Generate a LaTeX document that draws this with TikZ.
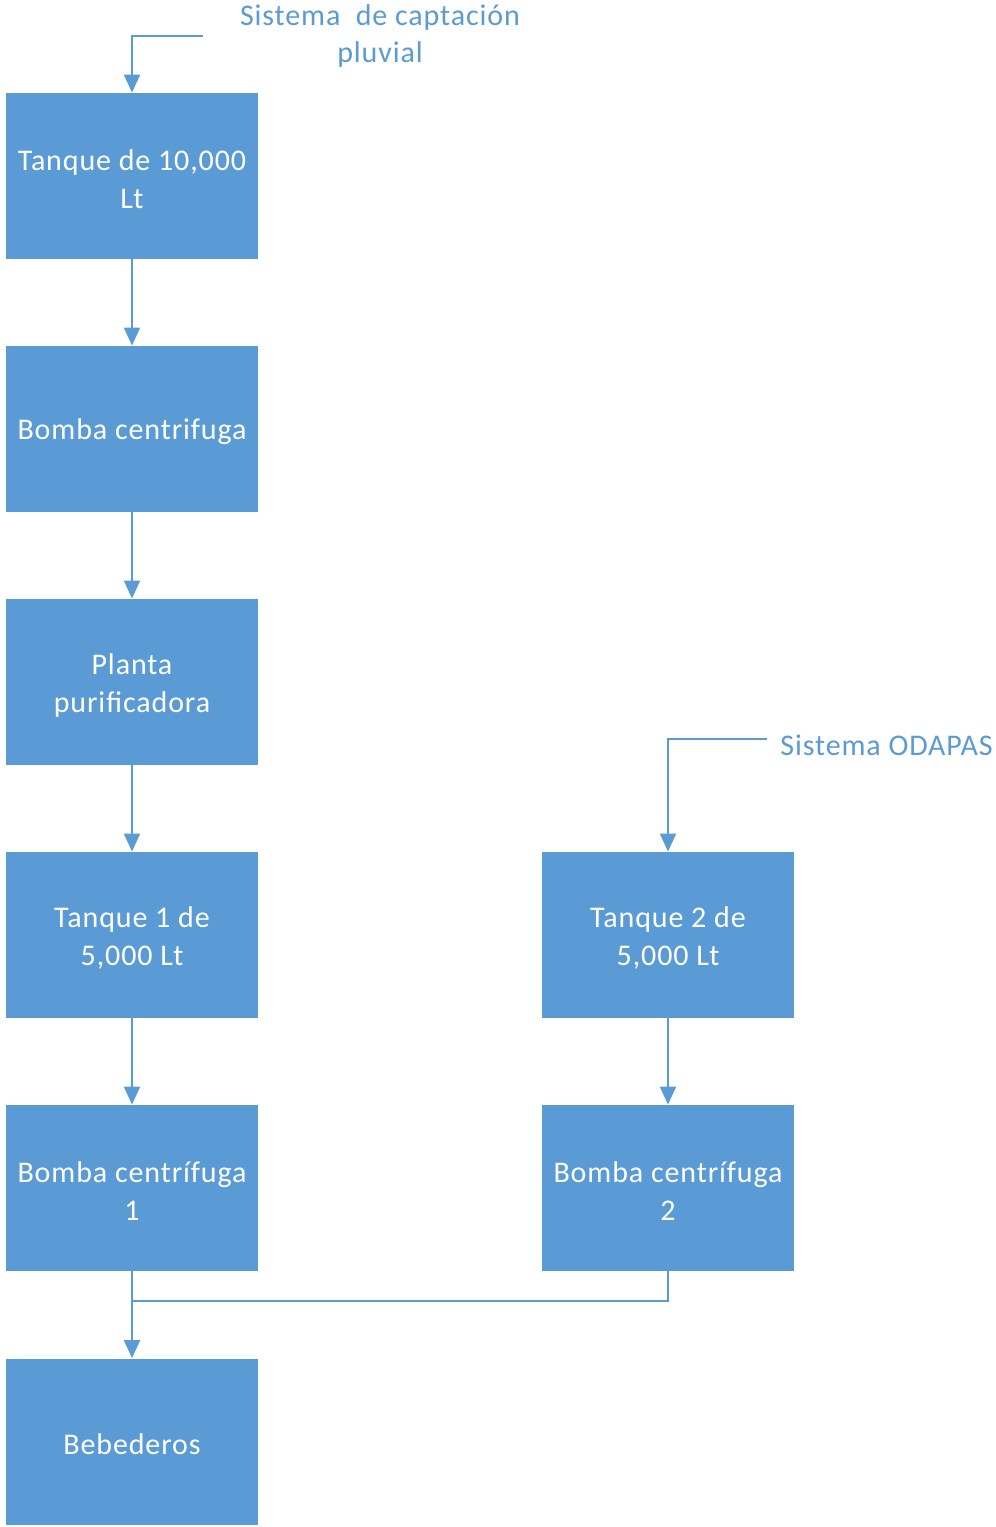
\documentclass[tikz,border=0pt]{standalone}
\usepackage{fontspec}
\setmainfont{Carlito}[LetterSpace=3]
\usetikzlibrary{arrows.meta}
\definecolor{boxblue}{HTML}{5B9BD5}
\definecolor{lineblue}{HTML}{5B9BD5}
\newcommand{\lowered}[1]{\raisebox{-1.5pt}[\height][\depth]{\parbox{124pt}{\centering #1}}}
\begin{document}
\begin{tikzpicture}[x=0.5pt,y=-0.5pt,
  stage/.style={fill=boxblue, draw=none, minimum width=126pt, minimum height=83pt,
    inner sep=0pt, align=center, text=white, font=\fontsize{15}{19}\selectfont},
  lbl/.style={text=lineblue, align=center, inner sep=0pt, font=\fontsize{15}{18.5}\selectfont},
  flow/.style={draw=lineblue, line width=1pt, -{Triangle[width=8pt,length=9pt]}},
  link/.style={draw=lineblue, line width=1pt}]
\useasboundingbox (0,0) rectangle (996,1527);
\node[stage] (t10) at (132,176) {\lowered{Tanque de 10,000\\Lt}};
\node[stage] (b0) at (132,429) {\lowered{Bomba centrifuga}};
\node[stage] (pp) at (132,682) {\lowered{Planta\\purificadora}};
\node[stage] (t1) at (132,935) {\lowered{Tanque 1 de\\5,000 Lt}};
\node[stage] (b1) at (132,1188) {\lowered{Bomba centrífuga\\1}};
\node[stage] (beb) at (132,1441.5) {\lowered{Bebederos}};
\node[stage] (t2) at (668,935) {\lowered{Tanque 2 de\\5,000 Lt}};
\node[stage] (b2) at (668,1188) {\lowered{Bomba centrífuga\\2}};
\node[lbl] (lp) at (380,36) {Sistema\ \ de captación\\pluvial};
\node[lbl, anchor=west] (lo) at (780,745) {Sistema ODAPAS};
\coordinate (sp) at (203,36);
\coordinate (so) at (767,739);
\coordinate (mj) at (132,1301);
\draw[flow] (sp) -- (t10.north |- sp) -- (t10.north);
\draw[flow] (so) -- (t2.north |- so) -- (t2.north);
\draw[flow] (t10) -- (b0);
\draw[flow] (b0) -- (pp);
\draw[flow] (pp) -- (t1);
\draw[flow] (t1) -- (b1);
\draw[flow] (t2) -- (b2);
\draw[flow] (b1) -- (beb);
\draw[link] (b2.south) -- (b2.south |- mj) -- (mj);
\end{tikzpicture}
\end{document}
